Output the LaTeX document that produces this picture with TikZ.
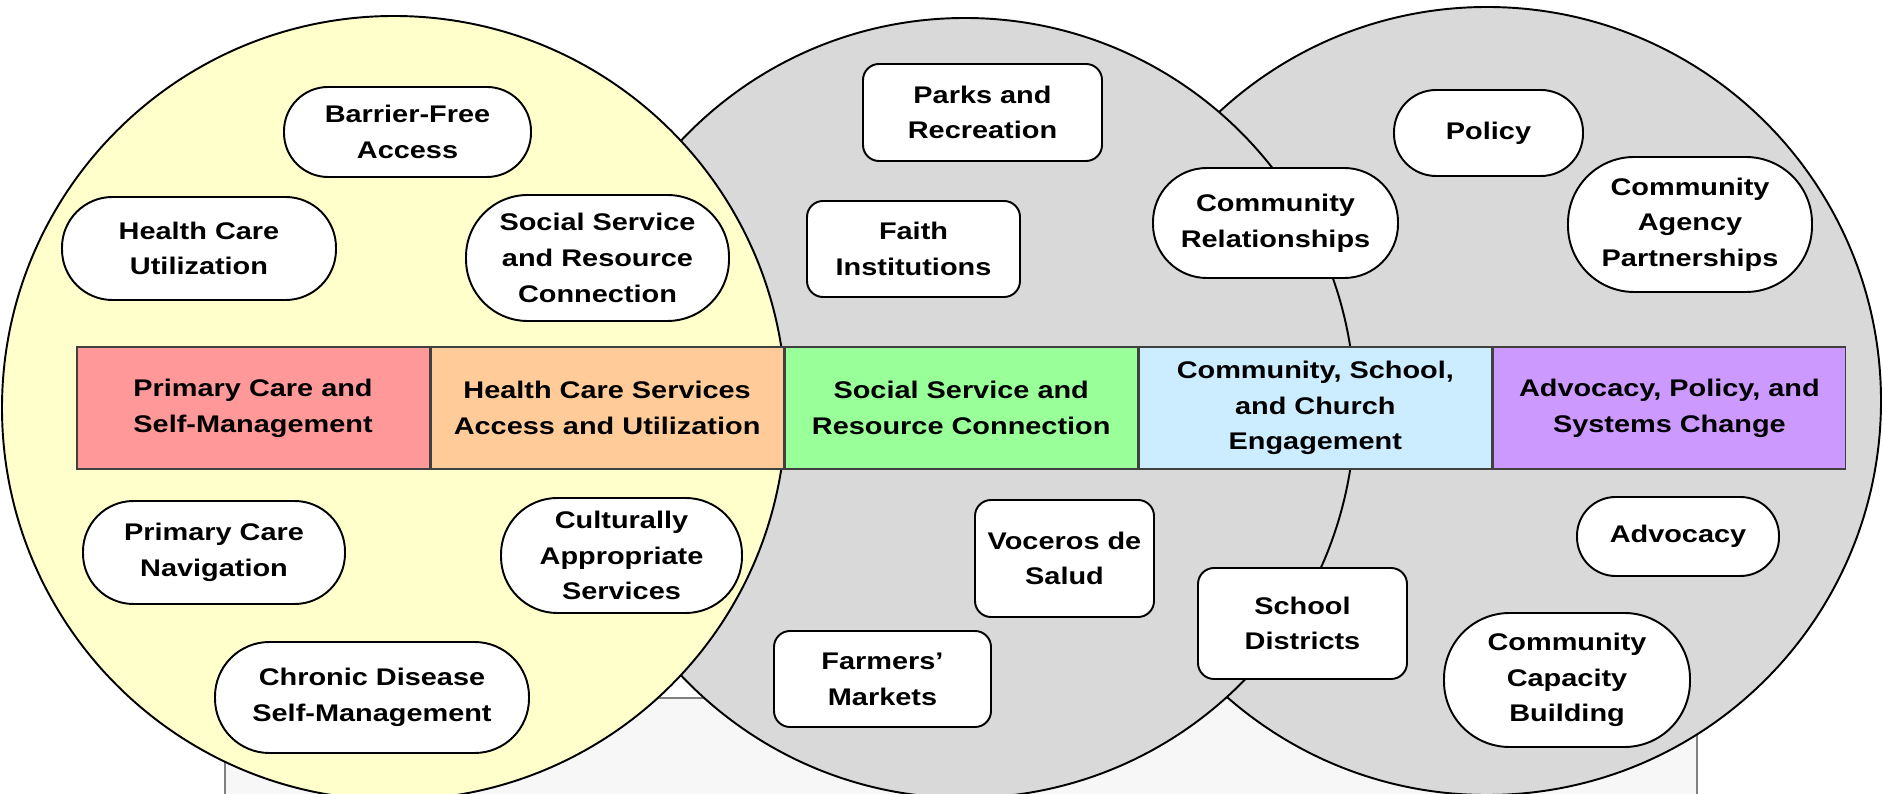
\documentclass[tikz,border=0pt]{standalone}
\usepackage{fontspec}
\setmainfont{Liberation Sans}[FakeStretch=1.2]
\usetikzlibrary{positioning}
\definecolor{venyellow}{HTML}{FFFFCC}
\definecolor{vengrey}{HTML}{D9D9D9}
\definecolor{barred}{HTML}{FF9999}
\definecolor{barorange}{HTML}{FFCC99}
\definecolor{bargreen}{HTML}{99FF99}
\definecolor{barblue}{HTML}{CCECFF}
\definecolor{barpurple}{HTML}{CC99FF}
\definecolor{backfill}{HTML}{F7F7F7}
\begin{document}
\begin{tikzpicture}[x=0.2mm,y=-0.2mm,
    every node/.style={font=\fontsize{13.7}{20.3}\selectfont\bfseries,align=center,inner sep=0pt},
    pill/.style 2 args={draw,fill=white,line width=1.1pt,minimum width=#1,minimum height=#2,rounded corners=0.49*#2},
    box/.style 2 args={draw,fill=white,line width=1.1pt,minimum width=#1,minimum height=#2,rounded corners=3.2mm},
    cell/.style={draw=black!75,line width=0.9pt,minimum width=70.5mm,minimum height=24.4mm}]
  \useasboundingbox (0,0) rectangle (1883,794);
  \clip (0,0) rectangle (1883,794);
  \draw[draw=black!50,line width=0.9pt,fill=backfill] (225,698) rectangle (1697,830);
  \draw[line width=1.1pt,fill=vengrey] (1487,401) circle[radius=78.8mm];
  \draw[line width=1.1pt,fill=vengrey] (965,408) circle[radius=78mm];
  \draw[line width=1.1pt,fill=venyellow] (394,408) circle[radius=78.4mm];
  % bar
  \node[cell,fill=barred,anchor=west] (pcsm) at (76,408) {Primary Care and\\Self-Management};
  \node[cell,fill=barorange,right=0pt of pcsm] (hcsau) {Health Care Services\\Access and Utilization};
  \node[cell,fill=bargreen,right=0pt of hcsau] (ssrcbar) {Social Service and\\Resource Connection};
  \node[cell,fill=barblue,right=0pt of ssrcbar] (cscebar) {Community, School,\\and Church\\Engagement};
  \node[cell,fill=barpurple,right=0pt of cscebar] (apscbar) {Advocacy, Policy, and\\Systems Change};
  % yellow circle
  \node[pill={49.4mm}{18mm}] (barrier) at (407.5,132) {Barrier-Free\\Access};
  \node[pill={54.8mm}{20.6mm}] (hcu) at (199,248.5) {Health Care\\Utilization};
  \node[pill={52.6mm}{25.2mm}] (ssrc) at (597.5,258) {Social Service\\and Resource\\Connection};
  \node[pill={52.4mm}{20.6mm}] (pcn) at (214,552.5) {Primary Care\\Navigation};
  \node[pill={48.2mm}{23mm}] (cas) at (621.5,555.5) {Culturally\\Appropriate\\Services};
  \node[pill={62.8mm}{22.2mm}] (cdsm) at (372,697.5) {Chronic Disease\\Self-Management};
  % middle circle
  \node[box={47.8mm}{19.4mm}] (parks) at (982.5,112.5) {Parks and\\Recreation};
  \node[box={42.6mm}{19.2mm}] (faith) at (913.5,249) {Faith\\Institutions};
  \node[box={35.8mm}{23.4mm}] (voceros) at (1064.5,558.5) {Voceros de\\Salud};
  \node[box={43.4mm}{19.2mm}] (farmers) at (882.5,679) {Farmers’\\Markets};
  \node[box={41.8mm}{22.2mm}] (school) at (1302.5,623.5) {School\\Districts};
  \node[pill={49mm}{22mm}] (commrel) at (1275.5,223) {Community\\Relationships};
  % right circle
  \node[pill={37.8mm}{17.2mm}] (policy) at (1488.5,133) {Policy};
  \node[pill={48.8mm}{27mm}] (cap) at (1690,224.5) {Community\\Agency\\Partnerships};
  \node[pill={40.4mm}{15.8mm}] (advocacy) at (1678,536.5) {Advocacy};
  \node[pill={49.2mm}{26.8mm}] (ccb) at (1567,680) {Community\\Capacity\\Building};
\end{tikzpicture}
\end{document}
